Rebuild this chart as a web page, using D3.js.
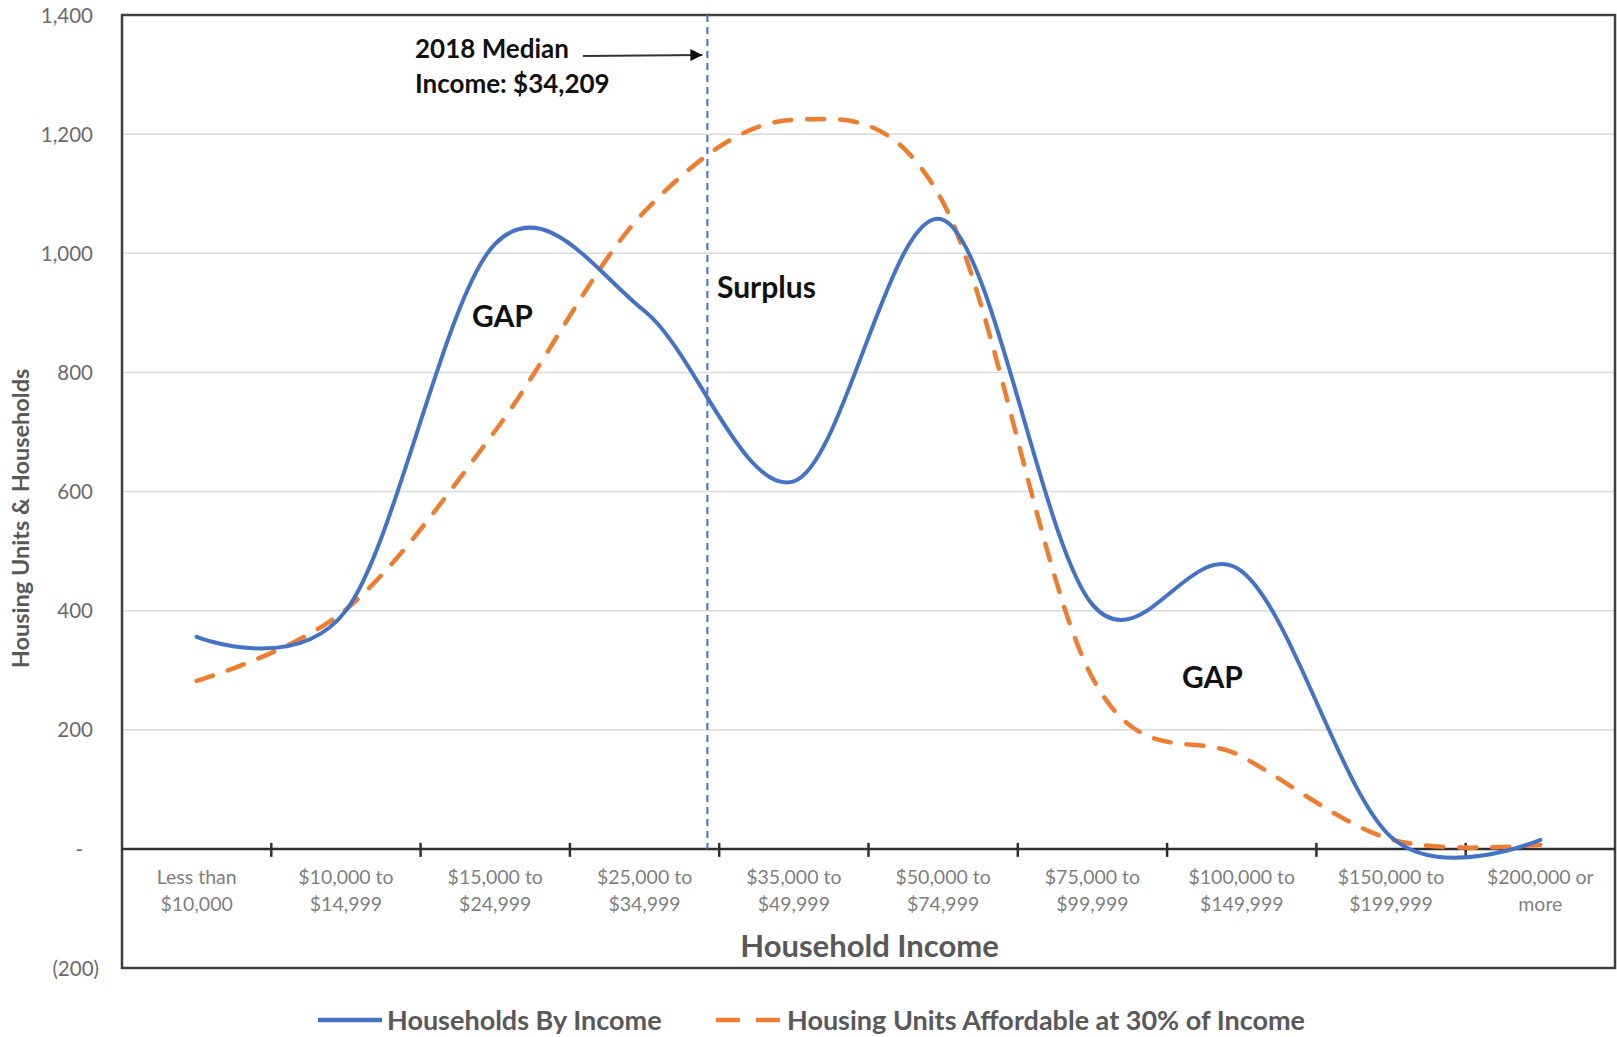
<!DOCTYPE html>
<html>
<head>
<meta charset="utf-8">
<script src="https://cdn.jsdelivr.net/npm/d3@7"></script>
<style>
  html, body { margin: 0; padding: 0; background: #fff; }
  svg { display: block; font-family: Lato, "Noto Sans", sans-serif; }
</style>
</head>
<body>
<svg id="chart" width="1617" height="1037"></svg>
<script>
// Income brackets (two-line labels under the axis)
const categories = [
  "Less than $10,000", "$10,000 to $14,999", "$15,000 to $24,999",
  "$25,000 to $34,999", "$35,000 to $49,999", "$50,000 to $74,999",
  "$75,000 to $99,999", "$100,000 to $149,999", "$150,000 to $199,999",
  "$200,000 or more"
];
const categoryLines = [
  ["Less than", "$10,000"], ["$10,000 to", "$14,999"], ["$15,000 to", "$24,999"],
  ["$25,000 to", "$34,999"], ["$35,000 to", "$49,999"], ["$50,000 to", "$74,999"],
  ["$75,000 to", "$99,999"], ["$100,000 to", "$149,999"], ["$150,000 to", "$199,999"],
  ["$200,000 or", "more"]
];

// Series
const households = [356, 400, 1016, 903, 617, 1056, 410, 466, 20, 15];
const affordableUnits = [282, 402, 702, 1070, 1224, 1085, 287, 155, 16, 7];

// Value axis
const yTicks = [-200, 0, 200, 400, 600, 800, 1000, 1200, 1400];
const yDomain = [-200, 1400];

// Median income marker
const medianIncome = 34209;
const medianBracket = { category: "$25,000 to $34,999", low: 25000, high: 35000 };

const seriesNames = ["Households By Income", "Housing Units Affordable at 30% of Income"];

const svg = d3.select("#chart");
const plot = { left: 122, top: 15, right: 1615, bottom: 968 };

const x = d3.scaleBand().domain(categories).range([plot.left, plot.right]).padding(0);
const y = d3.scaleLinear().domain(yDomain).range([plot.bottom, plot.top]);
const cx = c => x(c) + x.bandwidth() / 2;

// Gridlines
svg.append("g").selectAll("line")
  .data(yTicks.filter(v => v > 0 && v < 1400))
  .join("line")
  .attr("x1", plot.left).attr("x2", plot.right)
  .attr("y1", d => y(d)).attr("y2", d => y(d))
  .attr("stroke", "#d9d9d9").attr("stroke-width", 1.5);

// Y axis labels
const yFmt = v => v < 0 ? "(" + d3.format(",")(-v) + ")" : v === 0 ? "-" : d3.format(",")(v);
const yAxis = d3.axisLeft(y).tickValues(yTicks).tickFormat(yFmt).tickSize(0).tickPadding(0);
const gy = svg.append("g").attr("transform", "translate(93,0)").call(yAxis);
gy.select(".domain").remove();
gy.selectAll("text")
  .attr("font-family", "Lato, sans-serif")
  .attr("font-size", 20.5)
  .attr("fill", "#6b6b6b")
  .attr("dy", "0.35em")
  .attr("dx", d => d < 0 ? 6 : d === 0 ? -10 : 0);

// Y axis title
svg.append("text")
  .attr("transform", `translate(29,${(y(1400) + y(-200)) / 2 + 27}) rotate(-90)`)
  .attr("text-anchor", "middle")
  .attr("font-size", 23.5).attr("font-weight", 700).attr("fill", "#595959")
  .text("Housing Units & Households");

// Plot frame
svg.append("rect")
  .attr("x", plot.left).attr("y", plot.top)
  .attr("width", plot.right - plot.left).attr("height", plot.bottom - plot.top)
  .attr("fill", "none").attr("stroke", "#3f3f3f").attr("stroke-width", 2.5);

// Category axis at zero with ticks on bracket boundaries
svg.append("line")
  .attr("x1", plot.left).attr("x2", plot.right)
  .attr("y1", y(0)).attr("y2", y(0))
  .attr("stroke", "#2f2f2f").attr("stroke-width", 2.5);
svg.append("g").selectAll("line")
  .data(categories.slice(1))
  .join("line")
  .attr("x1", d => x(d)).attr("x2", d => x(d))
  .attr("y1", y(0) - 6).attr("y2", y(0) + 8)
  .attr("stroke", "#2f2f2f").attr("stroke-width", 2.5);

// Category labels
const xl = svg.append("g").selectAll("text")
  .data(categories)
  .join("text")
  .attr("text-anchor", "middle")
  .attr("font-size", 19.5).attr("fill", "#7f7f7f");
xl.each(function(d, i) {
  const t = d3.select(this);
  categoryLines[i].forEach((line, j) => {
    t.append("tspan").attr("x", cx(d)).attr("y", 884 + j * 27).text(line);
  });
});

// X axis title
svg.append("text")
  .attr("x", (plot.left + plot.right) / 2 + 1).attr("y", 957)
  .attr("text-anchor", "middle")
  .attr("font-size", 31).attr("font-weight", 700).attr("fill", "#595959")
  .text("Household Income");

// Median marker line
const medX = d3.scaleLinear()
  .domain([medianBracket.low, medianBracket.high])
  .range([x(medianBracket.category), x(medianBracket.category) + x.bandwidth()]);
svg.append("line")
  .attr("x1", medX(medianIncome)).attr("x2", medX(medianIncome))
  .attr("y1", y(1400)).attr("y2", y(0))
  .attr("stroke", "#4472c4").attr("stroke-width", 2)
  .attr("stroke-dasharray", "7 5");

// Series lines
const line = d3.line()
  .x((d, i) => cx(categories[i]))
  .y(d => y(d))
  .curve(d3.curveCatmullRom.alpha(0));

svg.append("path")
  .datum(affordableUnits)
  .attr("d", line)
  .attr("fill", "none").attr("stroke", "#ed7d31")
  .attr("stroke-width", 4.5)
  .attr("stroke-dasharray", "17 16")
  .attr("stroke-linecap", "round");

svg.append("path")
  .datum(households)
  .attr("d", line)
  .attr("fill", "none").attr("stroke", "#4472c4")
  .attr("stroke-width", 4)
  .attr("stroke-linecap", "round");

// Annotations
const note = svg.append("text")
  .attr("font-size", 26).attr("font-weight", 700).attr("fill", "#111");
note.append("tspan").attr("x", 415).attr("y", 58).text("2018 Median");
note.append("tspan").attr("x", 415).attr("y", 93).text("Income: $" + d3.format(",")(medianIncome));

svg.append("defs").append("marker")
  .attr("id", "arrowhead")
  .attr("viewBox", "0 0 10 10").attr("refX", 10).attr("refY", 5)
  .attr("markerWidth", 16).attr("markerHeight", 12)
  .attr("markerUnits", "userSpaceOnUse")
  .attr("orient", "auto")
  .append("path").attr("d", "M0,0 L10,5 L0,10 Z").attr("fill", "#111");
svg.append("line")
  .attr("x1", 583).attr("y1", 56).attr("x2", medX(medianIncome) - 5).attr("y2", 55)
  .attr("stroke", "#333").attr("stroke-width", 2)
  .attr("marker-end", "url(#arrowhead)");

const labelStyle = s => s.attr("font-size", 30).attr("font-weight", 700).attr("fill", "#111");
svg.append("text").call(labelStyle).attr("x", 717).attr("y", 298).text("Surplus");
svg.append("text").call(labelStyle).attr("x", 472).attr("y", 327).text("GAP");
svg.append("text").call(labelStyle).attr("x", 1182).attr("y", 688).text("GAP");

// Legend
const legend = svg.append("g").attr("font-size", 27).attr("font-weight", 700).attr("fill", "#595959");
legend.append("line")
  .attr("x1", 318).attr("x2", 382).attr("y1", 1020).attr("y2", 1020)
  .attr("stroke", "#4472c4").attr("stroke-width", 4.5);
legend.append("text").attr("x", 387).attr("y", 1030).text(seriesNames[0]);
legend.append("line")
  .attr("x1", 716).attr("x2", 780).attr("y1", 1020).attr("y2", 1020)
  .attr("stroke", "#ed7d31").attr("stroke-width", 4.5)
  .attr("stroke-dasharray", "24 16");
legend.append("text").attr("x", 787).attr("y", 1030).text(seriesNames[1]);
</script>
</body>
</html>
